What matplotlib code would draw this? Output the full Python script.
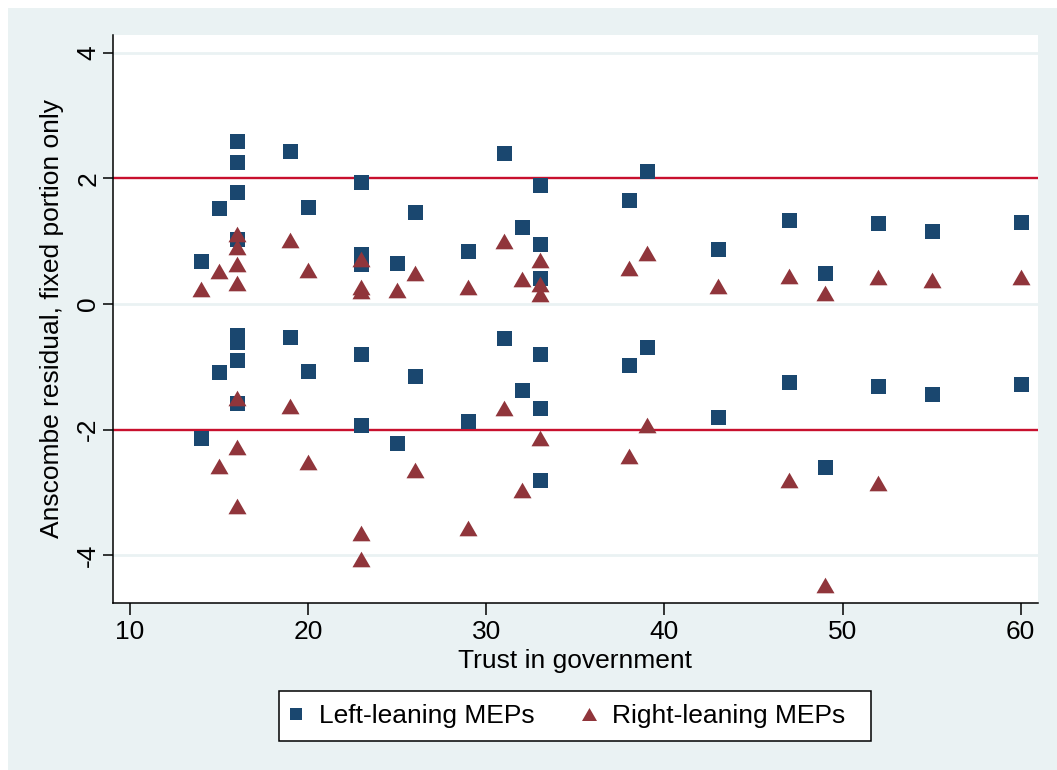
import matplotlib
matplotlib.use("Agg")
import matplotlib.pyplot as plt
from matplotlib.lines import Line2D
from matplotlib.patches import Rectangle

plt.rcParams['font.family'] = ['Liberation Sans', 'DejaVu Sans']

# ---- data ----
left_x = [14, 14, 15, 15, 16, 16, 16, 16, 16, 16, 16, 16, 19, 19, 20, 20,
          23, 23, 23, 23, 23, 25, 25, 26, 26, 29, 29, 31, 31, 32, 32,
          33, 33, 33, 33, 33, 33, 38, 38, 39, 39, 43, 43, 47, 47, 49, 49,
          52, 52, 55, 55, 60, 60]
left_y = [0.68, -2.14, 1.52, -1.09, 2.59, 2.26, 1.78, 1.04, -0.49, -0.61, -0.89, -1.58,
          2.43, -0.53, 1.55, -1.06, 1.94, 0.79, 0.63, -0.79, -1.92, 0.65, -2.21,
          1.46, -1.14, 0.84, -1.87, 2.40, -0.55, 1.22, -1.37, 1.90, 0.96, 0.42,
          -0.80, -1.66, -2.81, 1.65, -0.98, 2.11, -0.69, 0.88, -1.80, 1.33, -1.25,
          0.49, -2.59, 1.29, -1.30, 1.16, -1.44, 1.31, -1.28]

right_x = [14, 15, 15, 16, 16, 16, 16, 16, 16, 16, 19, 19, 20, 20,
           23, 23, 23, 23, 23, 25, 26, 26, 29, 29, 31, 31, 32, 32,
           33, 33, 33, 33, 38, 38, 39, 39, 43, 47, 47, 49, 49, 52, 52, 55, 60]
right_y = [0.23, 0.52, -2.58, 1.12, 0.90, 0.64, 0.34, -1.50, -2.28, -3.22,
           1.02, -1.62, 0.54, -2.52, 0.71, 0.27, 0.21, -3.65, -4.06, 0.22,
           0.49, -2.65, 0.27, -3.57, 1.00, -1.66, 0.40, -2.96, 0.70, 0.32,
           0.15, -2.14, 0.57, -2.42, 0.81, -1.93, 0.29, 0.45, -2.81, 0.18,
           -4.48, 0.43, -2.85, 0.38, 0.43]

x_ticks = [10, 20, 30, 40, 50, 60]
y_ticks = [-4, -2, 0, 2, 4]
ref_lines = [-2, 2]
grid_lines = [-4, 0, 4]
series_labels = ["Left-leaning MEPs", "Right-leaning MEPs"]

# ---- styles ----
BG = '#EAF2F3'
NAVY = '#1A476F'
MAROON = '#90353B'
RED = '#C8102E'
FS = 19
tri = [(0, 0.433), (-0.5, -0.433), (0.5, -0.433), (0, 0.433)]

W, H = 1057, 770
fig = plt.figure(figsize=(W / 100, H / 100), dpi=100, facecolor='white')
fig.patches.append(Rectangle((8 / W, 0), 1 - 8 / W, (H - 8) / H,
                             transform=fig.transFigure, facecolor=BG,
                             edgecolor='none', zorder=-10))

ax = fig.add_axes([113 / W, (H - 603) / H, (1038 - 113) / W, (603 - 35) / H])
ax.set_facecolor('white')

for g in grid_lines:
    ax.axhline(g, color=BG, lw=2.0, zorder=1)
for r in ref_lines:
    ax.axhline(r, color=RED, lw=1.7, zorder=2)

ax.plot(left_x, left_y, linestyle='none', marker='s', markersize=10.8,
        color=NAVY, markeredgewidth=0, zorder=3)
ax.plot(right_x, right_y, linestyle='none', marker=tri, markersize=13.0,
        color=MAROON, markeredgewidth=0, zorder=4)

ax.set_xlim(9.06, 60.97)
ax.set_ylim(-4.76, 4.28)
ax.set_xticks(x_ticks)
ax.set_yticks(y_ticks)
ax.set_xticklabels([str(v) for v in x_ticks], fontsize=FS)
ax.set_yticklabels([str(v) for v in y_ticks], fontsize=FS, rotation=90,
                   va='center')

for s in ['top', 'right']:
    ax.spines[s].set_visible(False)
for s in ['left', 'bottom']:
    ax.spines[s].set_linewidth(1.1)
    ax.spines[s].set_color('black')

ax.tick_params(axis='x', length=8.5, width=1.1, pad=4, colors='black')
ax.tick_params(axis='y', length=7.2, width=1.1, pad=2, colors='black')

ax.set_xlabel("Trust in government", fontsize=FS)
ax.xaxis.set_label_coords(0.5, (603 - 661) / 568)
ax.xaxis.label.set_va('center')
ax.set_ylabel("Anscombe residual, fixed portion only", fontsize=FS)
ax.yaxis.set_label_coords((52 - 113) / 925, 0.5)
ax.yaxis.label.set_va('center')

# legend frame
fig.patches.append(Rectangle((279 / W, (H - 741) / H), (871 - 279) / W, 50 / H,
                             transform=fig.transFigure, facecolor='white',
                             edgecolor='black', linewidth=1.1, zorder=5))

handles = [
    Line2D([], [], linestyle='none', marker='s', markersize=8.8, color=NAVY,
           markeredgewidth=0),
    Line2D([], [], linestyle='none', marker=tri, markersize=10.8, color=MAROON,
           markeredgewidth=0),
]
leg = fig.legend(handles, series_labels, loc='center left',
                 bbox_to_anchor=(288.7 / W, (H - 716) / H), ncol=2,
                 fontsize=FS, frameon=False, borderpad=0,
                 handlelength=0.55, handletextpad=0.6, columnspacing=1.77,
                 borderaxespad=0)
leg.set_zorder(6)

fig.savefig('out.png', dpi=100, facecolor='white')
